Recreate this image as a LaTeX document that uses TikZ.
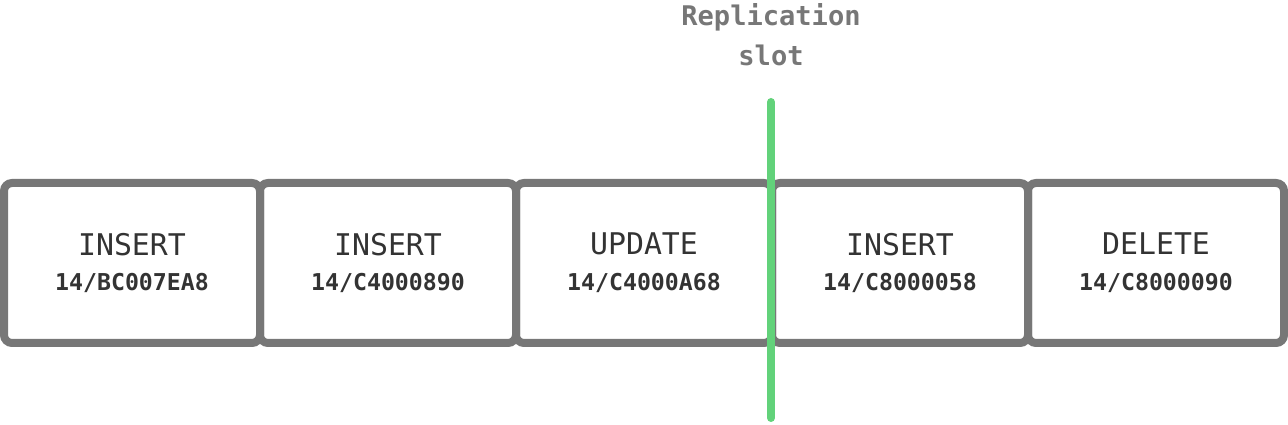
\documentclass[tikz,border=0pt]{standalone}
\usepackage{fontspec}
\setmonofont{DejaVu Sans Mono}
\usetikzlibrary{positioning}

\definecolor{boxgray}{HTML}{777777}
\definecolor{textdark}{HTML}{333333}
\definecolor{slotgreen}{HTML}{62D27A}

\tikzset{
  record/.style={draw=boxgray, line width=0.16cm, rounded corners=0.16cm,
    minimum width=5.12cm, minimum height=3.2cm, inner sep=0pt,
    outer sep=0pt, align=center, text=textdark,
    font=\ttfamily\fontsize{17}{20.4}\selectfont}
}
\newcommand{\lsntext}[1]{\fontsize{13.2}{20.4}\selectfont\bfseries #1}

\begin{document}
\begin{tikzpicture}

  \useasboundingbox (0,0) rectangle (25.76,8.5);

  \node (rec1) [record] at (2.64,3.24) {INSERT\\\lsntext{14/BC007EA8}};
  \node (rec2) [record, right=0pt of rec1] {INSERT\\\lsntext{14/C4000890}};
  \node (rec3) [record, right=0pt of rec2] {UPDATE\\\lsntext{14/C4000A68}};
  \node (rec4) [record, right=0pt of rec3] {INSERT\\\lsntext{14/C8000058}};
  \node (rec5) [record, right=0pt of rec4] {DELETE\\\lsntext{14/C8000090}};

  % replication slot marker
  \coordinate (slottop) at (15.42,6.46);
  \coordinate (slotbot) at (15.42,0.14);
  \draw[slotgreen, line width=0.16cm, line cap=round] (slottop) -- (slotbot);

  \node (slotlbl) [above=0.72cm of slottop, inner sep=0pt, outer sep=0pt,
    align=center, text=boxgray,
    font=\ttfamily\bfseries\fontsize{15.4}{22.7}\selectfont] {Replication\\slot};
\end{tikzpicture}
\end{document}
